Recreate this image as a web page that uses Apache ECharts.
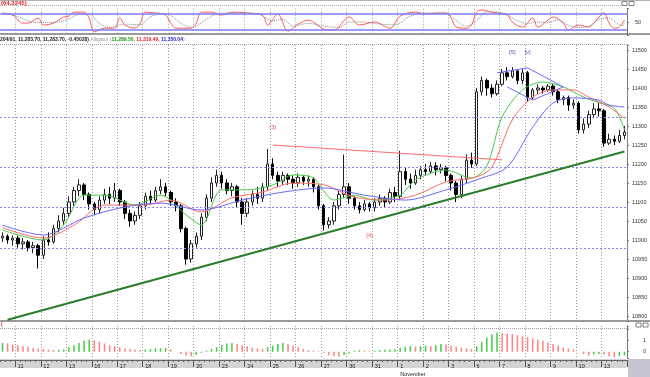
<!DOCTYPE html>
<html>
<head>
<meta charset="utf-8">
<script src="https://cdn.jsdelivr.net/npm/echarts@6/dist/echarts.min.js"></script>
<style>
  html, body { margin: 0; padding: 0; background: #fff; }
  #chart { width: 650px; height: 377px; }
</style>
</head>
<body>
<div id="chart"></div>
<script>
/* global echarts */

// session labels on the time axis, one per trading day
const days = ['11', '12', '13', '16', '17', '18', '19', '20', '23', '24', '25', '26', '27',
  '30', '31', '1\nNovember', '2', '3', '6', '7', '8', '9', '10', '13'];
const barsPerDay = 5;
const leadBars = 3;

// [open, close, low, high]
const candles = [
  [11005, 11010, 10995, 11020], [11010, 11000, 10990, 11015], [11000, 11005, 10985, 11012],
  [11005, 10990, 10980, 11012], [10990, 10995, 10975, 11005], [10995, 10980, 10970, 11000], [10980, 10985, 10965, 10995], [10985, 10960, 10925, 10990],
  [10960, 11000, 10950, 11010], [11000, 10995, 10985, 11020], [10995, 11030, 10990, 11040], [11030, 11050, 11020, 11065], [11050, 11070, 11040, 11085],
  [11070, 11100, 11060, 11115], [11100, 11130, 11090, 11140], [11130, 11145, 11115, 11160], [11145, 11120, 11105, 11150], [11120, 11095, 11080, 11125],
  [11095, 11080, 11065, 11100], [11080, 11105, 11070, 11115], [11105, 11120, 11095, 11135], [11120, 11110, 11095, 11140], [11110, 11130, 11100, 11150],
  [11130, 11100, 11090, 11135], [11100, 11070, 11055, 11105], [11070, 11050, 11035, 11080], [11050, 11065, 11040, 11075], [11065, 11090, 11055, 11100],
  [11090, 11115, 11080, 11125], [11115, 11105, 11095, 11130], [11105, 11130, 11100, 11140], [11130, 11140, 11120, 11160], [11140, 11125, 11115, 11150],
  [11125, 11100, 11090, 11130], [11100, 11090, 11075, 11110], [11090, 11030, 11020, 11095], [11030, 10950, 10935, 11035], [10950, 10990, 10940, 11000],
  [10990, 11010, 10980, 11020], [11010, 11060, 11000, 11070], [11060, 11110, 11050, 11120], [11110, 11150, 11100, 11165], [11150, 11170, 11140, 11185],
  [11170, 11150, 11135, 11180], [11150, 11130, 11120, 11160], [11130, 11140, 11115, 11150], [11140, 11100, 11085, 11145], [11100, 11070, 11040, 11110],
  [11070, 11100, 11060, 11110], [11100, 11120, 11090, 11130], [11120, 11110, 11095, 11140], [11110, 11140, 11100, 11150], [11140, 11200, 11130, 11240],
  [11200, 11170, 11160, 11215], [11170, 11155, 11140, 11180], [11155, 11170, 11145, 11180], [11170, 11160, 11145, 11175], [11160, 11150, 11135, 11170],
  [11150, 11165, 11140, 11175], [11165, 11155, 11145, 11170], [11155, 11160, 11140, 11170], [11160, 11140, 11125, 11165], [11140, 11090, 11080, 11145],
  [11090, 11040, 11025, 11095], [11040, 11050, 11030, 11060], [11050, 11090, 11040, 11100], [11090, 11120, 11080, 11130], [11120, 11140, 11110, 11225],
  [11140, 11110, 11095, 11150], [11110, 11090, 11080, 11115], [11090, 11080, 11070, 11100], [11080, 11095, 11075, 11105], [11095, 11085, 11075, 11100],
  [11085, 11100, 11075, 11110], [11100, 11110, 11090, 11120], [11110, 11100, 11085, 11115], [11100, 11125, 11095, 11135], [11125, 11115, 11100, 11140],
  [11115, 11180, 11105, 11235], [11180, 11160, 11145, 11190], [11160, 11150, 11135, 11175], [11150, 11170, 11145, 11185], [11170, 11185, 11160, 11195],
  [11185, 11180, 11170, 11200], [11180, 11195, 11175, 11205], [11195, 11185, 11170, 11205], [11185, 11190, 11175, 11200], [11190, 11170, 11155, 11195],
  [11170, 11150, 11130, 11175], [11150, 11120, 11100, 11155], [11120, 11160, 11110, 11170], [11160, 11210, 11150, 11225], [11210, 11200, 11190, 11230],
  [11200, 11390, 11195, 11400], [11390, 11420, 11380, 11430], [11420, 11400, 11380, 11425], [11400, 11385, 11375, 11410], [11385, 11410, 11380, 11420],
  [11410, 11440, 11405, 11450], [11440, 11430, 11420, 11455], [11430, 11445, 11425, 11455], [11445, 11420, 11410, 11450], [11420, 11440, 11410, 11450],
  [11440, 11375, 11365, 11445], [11375, 11395, 11370, 11400], [11395, 11400, 11385, 11410], [11400, 11395, 11385, 11405], [11395, 11405, 11390, 11410],
  [11405, 11390, 11380, 11410], [11390, 11370, 11360, 11395], [11370, 11375, 11355, 11380], [11375, 11355, 11340, 11380], [11355, 11360, 11345, 11370],
  [11360, 11290, 11280, 11365], [11290, 11305, 11280, 11320], [11305, 11330, 11295, 11340], [11330, 11345, 11320, 11360], [11345, 11340, 11325, 11360],
  [11340, 11255, 11245, 11345], [11255, 11265, 11250, 11280], [11265, 11260, 11250, 11275], [11260, 11275, 11255, 11290], [11275, 11284, 11265, 11300]
];

// alligator lines, read at [bar, price]
const lips = [[0, 11026], [8, 11000], [12, 11040], [16, 11118], [20, 11118], [26, 11092], [31, 11118], [36, 11066],
  [39, 11040], [43, 11132], [48, 11132], [53, 11145], [57, 11171], [61, 11163], [65, 11105], [69, 11118], [73, 11105],
  [78, 11118], [81, 11158], [87, 11184], [92, 11163], [95, 11195], [98, 11324], [102, 11395], [106, 11416],
  [110, 11403], [114, 11376], [117, 11361], [120, 11347], [122, 11290]];
const teeth = [[0, 11032], [8, 11005], [14, 11039], [20, 11092], [28, 11092], [33, 11105], [39, 11074], [45, 11111],
  [51, 11126], [57, 11150], [63, 11145], [69, 11113], [75, 11105], [81, 11118], [87, 11153], [93, 11166], [96, 11192],
  [100, 11316], [104, 11376], [108, 11395], [112, 11395], [115, 11376], [119, 11350], [122, 11320]];
const jaw = [[0, 11039], [8, 11013], [16, 11058], [24, 11087], [31, 11097], [39, 11079], [47, 11105], [55, 11126],
  [63, 11137], [71, 11118], [79, 11105], [87, 11132], [94, 11163], [99, 11192], [104, 11297], [108, 11361],
  [112, 11374], [117, 11368], [119, 11355], [122, 11350]];

// drawn lines and level lines
const supportLine = [[1, 10790], [122, 11233]];
const resistLine = [[53, 11250], [98, 11211]];
const wedgeTop = [[97, 11440], [103, 11453], [110, 11403]];
const wedgeBottom = [[99, 11403], [104, 11368], [110, 11403]];
const levels = [11324, 11192, 11087, 10979];
const waveRed = [[53, 11295, '(3)'], [72, 11013, '(4)']];
const waveBlue = [[100, 11495, '[5]'], [103, 11495, '[v]']];

// stochastic %K and %D, read at [bar, value]
const stochK = [[0, 83], [2, 76], [4, 46], [5, 46], [7, 65], [8, 39], [10, 46], [12, 69], [13, 72], [14, 87], [16, 87],
  [17, 65], [18, 13], [20, 27], [22, 27], [23, 65], [24, 39], [26, 27], [27, 46], [28, 87], [30, 84], [32, 76],
  [33, 46], [34, 27], [37, 27], [38, 46], [39, 87], [41, 87], [43, 76], [45, 87], [48, 84], [51, 76], [52, 39],
  [54, 80], [56, 16], [58, 42], [60, 57], [63, 24], [65, 20], [68, 69], [70, 39], [73, 50], [76, 27], [78, 72],
  [81, 87], [83, 80], [85, 84], [87, 84], [88, 65], [89, 31], [91, 27], [92, 39], [93, 87], [94, 95], [96, 87],
  [99, 76], [100, 50], [102, 31], [104, 65], [105, 31], [107, 57], [108, 69], [110, 46], [111, 20], [113, 39],
  [115, 31], [116, 46], [118, 84], [119, 46], [120, 27], [121, 31], [122, 57]];
const stochD = [[0, 85], [3, 70], [6, 50], [9, 48], [12, 55], [15, 78], [17, 80], [19, 45], [21, 30], [24, 42],
  [27, 40], [29, 70], [32, 82], [35, 45], [37, 30], [40, 60], [42, 80], [45, 84], [50, 80], [53, 55], [55, 60],
  [57, 35], [60, 45], [63, 35], [66, 30], [68, 50], [71, 50], [74, 42], [77, 40], [80, 72], [83, 84], [87, 82],
  [89, 55], [91, 35], [93, 55], [95, 88], [98, 85], [101, 55], [103, 45], [105, 50], [107, 48], [109, 58],
  [111, 38], [113, 30], [115, 35], [117, 60], [119, 65], [121, 40], [122, 38]];

// awesome oscillator histogram, one value per bar
const ao = [0.8, 0.75, 0.65, 0.6, 0.5, 0.45, 0.35, 0.3, 0.25, 0.2, 0.15, 0.18, 0.22, 0.4, 0.6, 0.8, 1.0, 1.1,
  1.05, 0.9, 0.75, 0.6, 0.5, 0.4, 0.3, 0.25, 0.2, 0.15, 0.2, 0.25, 0.3, 0.32, 0.35, 0.2, 0.0, -0.2, -0.35, -0.4,
  -0.3, -0.1, 0.1, 0.25, 0.4, 0.6, 0.75, 0.8, 0.7, 0.6, 0.5, 0.35, 0.3, 0.25, 0.4, 0.55, 0.7, 0.8, 0.7, 0.55,
  0.4, 0.25, 0.15, 0.1, 0.05, -0.1, -0.3, -0.4, -0.45, -0.3, -0.15, 0.1, 0.15, 0.1, 0.05, 0.1, 0.15, 0.18, 0.2,
  0.22, 0.35, 0.45, 0.5, 0.45, 0.5, 0.55, 0.5, 0.6, 0.7, 0.65, 0.55, 0.45, 0.35, 0.3, 0.25, 0.5, 0.9, 1.3, 1.6,
  1.75, 1.7, 1.65, 1.6, 1.5, 1.4, 1.3, 1.2, 1.1, 1.0, 0.85, 0.7, 0.55, 0.4, 0.3, 0.2, 0.0, -0.2, -0.35, -0.25,
  -0.2, -0.25, -0.4, -0.5, -0.4, -0.35];

const FONT = 'Liberation Sans';
const bars = candles.map((c, i) => String(i));
const isDayStart = i => i >= leadBars && (i - leadBars) % barsPerDay === 0;
const dayLabel = i => (isDayStart(i) ? days[(i - leadBars) / barsPerDay] || '' : '');

const chart = echarts.init(document.getElementById('chart'), null, { renderer: 'canvas' });

const panelX = gridIndex => ({
  type: 'category',
  gridIndex,
  data: bars,
  boundaryGap: true,
  axisLine: { show: false },
  axisTick: { show: false },
  axisLabel: { show: false },
  splitLine: { show: true, interval: i => isDayStart(i), lineStyle: { color: '#9a9a9a', type: [1, 2], width: 1 } },
});

const rightY = (gridIndex, extra) => Object.assign({
  type: 'value',
  gridIndex,
  position: 'right',
  axisLine: { show: true, lineStyle: { color: '#777' } },
  axisTick: { show: true, length: 2, lineStyle: { color: '#777' } },
  splitLine: { show: false },
  axisLabel: { fontSize: 5.5, fontFamily: FONT, color: '#333', margin: 5 },
}, extra);

const aoColors = ao.map((v, i) => (i > 0 && v < ao[i - 1] ? '#ff8080' : '#44cc44'));

chart.setOption({
  animation: false,
  backgroundColor: '#fff',
  grid: [
    { left: 0, right: 23, top: 8.7, height: 26.7, outerBoundsMode: 'none' },
    { left: 0, right: 23, top: 45, height: 276, outerBoundsMode: 'none' },
    { left: 0, right: 23, top: 326, height: 32, outerBoundsMode: 'none' },
    { left: 0, right: 23, top: 359, height: 1, outerBoundsMode: 'none' },
  ],
  xAxis: [
    panelX(0), panelX(1), panelX(2),
    {
      type: 'category', gridIndex: 3, data: bars, position: 'bottom',
      axisLine: { show: true, lineStyle: { color: '#666' } },
      axisTick: { show: true, interval: 0, length: 2, lineStyle: { color: '#666' } },
      axisLabel: {
        show: true, interval: i => isDayStart(i), formatter: (v, i) => dayLabel(i),
        align: 'left', fontSize: 5.5, fontFamily: FONT, color: '#222', margin: 2, lineHeight: 8,
      },
      splitLine: { show: false },
    },
    {
      type: 'category', gridIndex: 3, data: bars, position: 'bottom',
      axisLine: { show: false },
      axisTick: { show: true, interval: i => isDayStart(i), length: 7, lineStyle: { color: '#555' } },
      axisLabel: { show: false },
      splitLine: { show: false },
    },
  ],
  yAxis: [
    rightY(0, {
      min: 0, max: 100, interval: 50,
      axisLabel: { fontSize: 5.5, fontFamily: FONT, color: '#333', margin: 8, formatter: v => (v === 50 ? '50' : '') },
    }),
    rightY(1, {
      min: 10786.8, max: 11513.2, splitNumber: 14,
      minorTick: { show: true, splitNumber: 5, length: 1, lineStyle: { color: '#999' } },
      axisLabel: { fontSize: 5.5, fontFamily: FONT, color: '#333', margin: 5, formatter: v => (Math.abs(v % 50) < 1e-6 ? String(v) : '') },
    }),
    rightY(2, {
      min: -0.57, max: 2.34, splitNumber: 3,
      axisLabel: { fontSize: 5.5, fontFamily: FONT, color: '#333', margin: 16, formatter: v => (v === 0 || v === 1 ? String(v) : '') },
    }),
    { type: 'value', gridIndex: 3, show: false },
  ],
  series: [
    {
      type: 'line', name: '%K', xAxisIndex: 0, yAxisIndex: 0, data: stochK, smooth: 0.35, symbol: 'none',
      lineStyle: { color: '#ff5a5a', width: 1 },
      markLine: {
        silent: true, symbol: 'none', label: { show: false },
        lineStyle: { color: '#7b7bff', type: 'solid', width: 1.5 },
        data: [{ yAxis: 80 }, { yAxis: 20 }],
      },
      z: 3,
    },
    {
      type: 'line', name: '%D', xAxisIndex: 0, yAxisIndex: 0, data: stochD, smooth: 0.35, symbol: 'none',
      lineStyle: { color: '#888', width: 1, type: [1, 1] },
    },
    {
      type: 'candlestick', name: 'Price', xAxisIndex: 1, yAxisIndex: 1, data: candles, barWidth: 3,
      itemStyle: { color: '#fff', color0: '#000', borderColor: '#222', borderColor0: '#000', borderWidth: 1 },
      markLine: {
        silent: true, symbol: 'none', label: { show: false },
        lineStyle: { color: '#8a8aff', type: [2, 2], width: 1 },
        data: levels.map(v => ({ yAxis: v })),
      },
      z: 4,
    },
    { type: 'line', name: 'Lips', xAxisIndex: 1, yAxisIndex: 1, data: lips, smooth: 0.3, symbol: 'none', lineStyle: { color: '#44cc44', width: 1 }, z: 5 },
    { type: 'line', name: 'Teeth', xAxisIndex: 1, yAxisIndex: 1, data: teeth, smooth: 0.3, symbol: 'none', lineStyle: { color: '#ff6a6a', width: 1 }, z: 5 },
    { type: 'line', name: 'Jaw', xAxisIndex: 1, yAxisIndex: 1, data: jaw, smooth: 0.3, symbol: 'none', lineStyle: { color: '#6a6aff', width: 1 }, z: 5 },
    { type: 'line', xAxisIndex: 1, yAxisIndex: 1, data: supportLine, symbol: 'none', lineStyle: { color: '#2a7d2a', width: 2 }, z: 6 },
    { type: 'line', xAxisIndex: 1, yAxisIndex: 1, data: resistLine, symbol: 'none', lineStyle: { color: '#ff6a6a', width: 1 }, z: 6 },
    { type: 'line', xAxisIndex: 1, yAxisIndex: 1, data: wedgeTop, symbol: 'none', lineStyle: { color: '#6a6aff', width: 1 }, z: 6 },
    { type: 'line', xAxisIndex: 1, yAxisIndex: 1, data: wedgeBottom, symbol: 'none', lineStyle: { color: '#6a6aff', width: 1 }, z: 6 },
    {
      type: 'scatter', xAxisIndex: 1, yAxisIndex: 1, symbolSize: 0, data: waveRed, z: 7,
      label: { show: true, position: 'inside', formatter: p => p.data[2], color: '#e02020', fontSize: 5.5, fontFamily: FONT },
    },
    {
      type: 'scatter', xAxisIndex: 1, yAxisIndex: 1, symbolSize: 0, data: waveBlue, z: 7,
      label: { show: true, position: 'inside', formatter: p => p.data[2], color: '#3030c0', fontSize: 6, fontFamily: FONT },
    },
    {
      type: 'bar', name: 'AO', xAxisIndex: 2, yAxisIndex: 2, barWidth: 1.5,
      data: ao.map((v, i) => ({ value: v, itemStyle: { color: aoColors[i] } })),
    },
  ],
  graphic: [
    { type: 'rect', shape: { x: 0, y: 0, width: 650, height: 1 }, style: { fill: '#b0b0b0' }, silent: true },
    { type: 'line', shape: { x1: 0, y1: 5.5, x2: 627, y2: 5.5 }, style: { stroke: '#a8a8a8', lineDash: [1, 1] }, silent: true },
    { type: 'text', left: 1, top: 0, style: { text: '(64.3245)', fill: '#e02020', font: 'bold 6px "Liberation Sans"' }, silent: true },
    { type: 'rect', shape: { x: 0, y: 33, width: 650, height: 2 }, style: { fill: '#9a9a9a' }, silent: true },
    { type: 'line', shape: { x1: 0, y1: 44.5, x2: 627, y2: 44.5 }, style: { stroke: '#a0a0a0', lineDash: [1, 1] }, silent: true },
    {
      type: 'text', left: 0, top: 37.5,
      style: {
        text: '{k|204/91, 11,283.70, 11,283.70, -0.45028)} {a|Alligator (}{g|11,289.50,} {r|11,319.49,} {b|11,350.04}{a|)}',
        font: '5px "Liberation Sans"',
        rich: {
          k: { fill: '#222', font: 'bold 5px "Liberation Sans"' },
          a: { fill: '#999', font: '5px "Liberation Sans"' },
          g: { fill: '#1a9a1a', font: 'bold 5px "Liberation Sans"' },
          r: { fill: '#e02020', font: 'bold 5px "Liberation Sans"' },
          b: { fill: '#2020d0', font: 'bold 5px "Liberation Sans"' },
        },
      },
      silent: true,
    },
    { type: 'rect', shape: { x: 0, y: 320, width: 650, height: 2 }, style: { fill: '#9a9a9a' }, silent: true },
    { type: 'text', left: 1, top: 322.5, style: { text: '(', fill: '#e02020', font: 'bold 5px "Liberation Sans"' }, silent: true },
    { type: 'line', shape: { x1: 0, y1: 328.5, x2: 627, y2: 328.5 }, style: { stroke: '#a0a0a0', lineDash: [1, 1] }, silent: true },
    { type: 'rect', shape: { x: 0, y: 359, width: 627, height: 9 }, style: { fill: '#d4d4d4' }, z: -1, silent: true },
    { type: 'rect', shape: { x: 628, y: 359, width: 22, height: 18 }, style: { fill: '#c6c6d2' }, silent: true },
    { type: 'rect', shape: { x: 622, y: 1.5, width: 5, height: 4 }, style: { fill: '#fff', stroke: '#666', lineWidth: 0.8 }, silent: true },
    { type: 'rect', shape: { x: 629, y: 1.5, width: 5, height: 4 }, style: { fill: '#fff', stroke: '#666', lineWidth: 0.8 }, silent: true },
    { type: 'rect', shape: { x: 636, y: 323, width: 5, height: 4 }, style: { fill: '#fff', stroke: '#666', lineWidth: 0.8 }, silent: true },
    { type: 'rect', shape: { x: 643, y: 323, width: 5, height: 4 }, style: { fill: '#fff', stroke: '#666', lineWidth: 0.8 }, silent: true },
  ],
});
</script>
</body>
</html>
